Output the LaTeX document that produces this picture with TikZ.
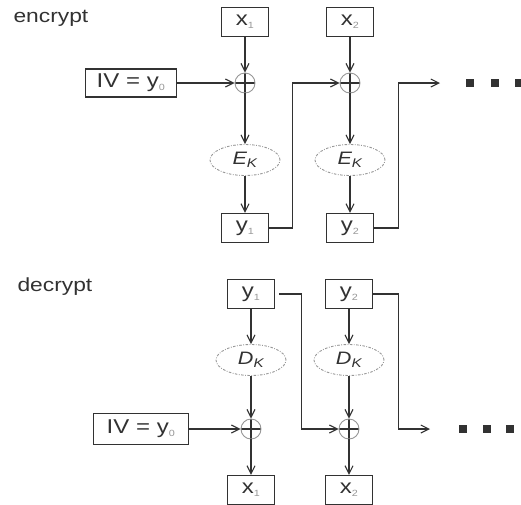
\documentclass[tikz,border=0pt]{standalone}
\usepackage{fontspec}
\setmainfont[FakeStretch=1.2]{Liberation Sans}
\usepackage{tikz}
\usetikzlibrary{arrows.meta,shapes.geometric}
\definecolor{ink}{RGB}{50,50,50}
\definecolor{faint}{RGB}{150,150,150}
\newcommand{\idx}[1]{\textsubscript{\color{faint}\fontsize{9}{9}\selectfont #1}}

\begin{document}
\begin{tikzpicture}[x=1pt, y=-1pt,
    box/.style={draw=ink, line width=1.1pt, minimum width=47pt,
                minimum height=29pt, inner sep=0pt, text=ink,
                font=\fontsize{20}{20}\selectfont},
    cipher/.style={ellipse, draw=faint, dash pattern=on 2.5pt off 1.5pt on 0.8pt off 1.5pt,
                   line width=0.9pt, minimum width=70pt, minimum height=31pt,
                   inner sep=0pt, text=ink, font=\fontsize{18}{18}\selectfont\itshape},
    xor/.style={circle, draw=faint, line width=0.9pt, minimum size=20pt,
                inner sep=0pt,
                path picture={\draw[ink, line width=1.1pt]
                  (path picture bounding box.north) -- (path picture bounding box.south)
                  (path picture bounding box.west) -- (path picture bounding box.east);}},
    arr/.style={-{Straight Barb[length=8pt,width=8pt]}, line width=1.1pt, ink},
    dot/.style={fill=ink, minimum size=8pt, inner sep=0pt},
    title/.style={anchor=west, text=ink, font=\fontsize{19}{19}\selectfont}
  ]
  \useasboundingbox (0,0) rectangle (521,504);

  % encrypt
  \node[title] (enc) at (10,18) {encrypt};
  \node[box] (x1) at (245,22) {x\idx{1}};
  \node[box] (x2) at (350,22) {x\idx{2}};
  \node[box, minimum width=91pt, minimum height=28pt] (iv) at (131,83) {IV = y\idx{0}};
  \node[xor] (xor1) at (245,83) {};
  \node[xor] (xor2) at (350,83) {};
  \node[cipher] (ek1) at (245,160) {E\textsubscript{K}};
  \node[cipher] (ek2) at (350,160) {E\textsubscript{K}};
  \node[box] (y1) at (245,228) {y\idx{1}};
  \node[box] (y2) at (350,228) {y\idx{2}};
  \coordinate (eout) at (440,83);
  \foreach \i/\px in {1/470,2/495,3/519}
    \node[dot] (edot\i) at (\px,83) {};

  \draw[arr] (x1) -- (xor1);
  \draw[arr] (iv) -- (xor1);
  \draw[arr] (xor1) -- (ek1);
  \draw[arr] (ek1) -- (y1);
  \draw[arr] (x2) -- (xor2);
  \draw[arr] (xor2) -- (ek2);
  \draw[arr] (ek2) -- (y2);
  \draw[arr] (y1.east) -- ++(23,0) |- (xor2.west);
  \draw[arr] (y2.east) -- ++(24,0) |- (eout);

  % decrypt
  \node[title] (dec) at (14,287) {decrypt};
  \node[box] (dy1) at (251,294) {y\idx{1}};
  \node[box] (dy2) at (349,294) {y\idx{2}};
  \node[cipher] (dk1) at (251,360) {D\textsubscript{K}};
  \node[cipher] (dk2) at (349,360) {D\textsubscript{K}};
  \node[box, minimum width=95pt, minimum height=31pt] (div) at (141,429) {IV = y\idx{0}};
  \node[xor] (dxor1) at (251,429) {};
  \node[xor] (dxor2) at (349,429) {};
  \node[box] (dx1) at (251,490) {x\idx{1}};
  \node[box] (dx2) at (349,490) {x\idx{2}};
  \coordinate (dout) at (430,429);
  \foreach \i/\px in {1/463,2/487,3/510}
    \node[dot] (ddot\i) at (\px,429) {};

  \draw[arr] (dy1) -- (dk1);
  \draw[arr] (dk1) -- (dxor1);
  \draw[arr] (div) -- (dxor1);
  \draw[arr] (dxor1) -- (dx1);
  \draw[arr] (dy2) -- (dk2);
  \draw[arr] (dk2) -- (dxor2);
  \draw[arr] (dxor2) -- (dx2);
  \draw[arr, shorten <=4pt] (dy1.east) -- ++(26,0) |- (dxor2.west);
  \draw[arr] (dy2.east) -- ++(25,0) |- (dout);
\end{tikzpicture}
\end{document}
